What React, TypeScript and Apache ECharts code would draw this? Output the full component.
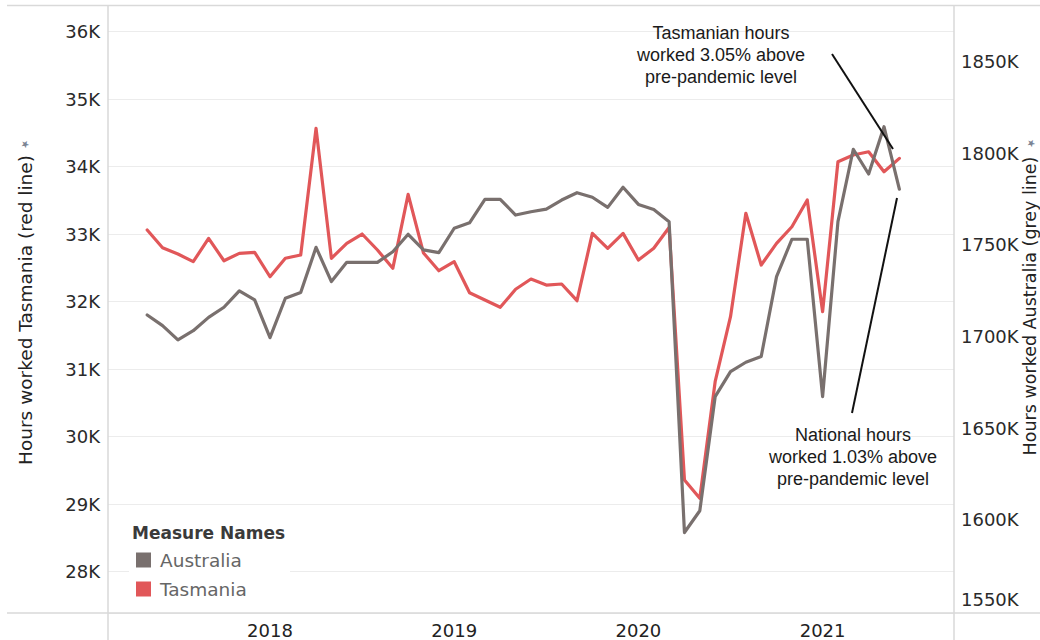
import React, { useEffect, useRef } from "react";
import * as echarts from "echarts";

// Monthly observations (x axis)
const months = [
  "2017-05", "2017-06", "2017-07", "2017-08", "2017-09", "2017-10", "2017-11", "2017-12",
  "2018-01", "2018-02", "2018-03", "2018-04", "2018-05", "2018-06", "2018-07", "2018-08", "2018-09", "2018-10", "2018-11", "2018-12",
  "2019-01", "2019-02", "2019-03", "2019-04", "2019-05", "2019-06", "2019-07", "2019-08", "2019-09", "2019-10", "2019-11", "2019-12",
  "2020-01", "2020-02", "2020-03", "2020-04", "2020-05", "2020-06", "2020-07", "2020-08", "2020-09", "2020-10", "2020-11", "2020-12",
  "2021-01", "2021-02", "2021-03", "2021-04", "2021-05", "2021-06",
];

// Hours worked, Tasmania (left axis, red line)
const tasmania = [
  33062, 32800, 32707, 32593, 32939, 32607, 32717, 32732,
  32370, 32643, 32692, 34569, 32643, 32865, 33003, 32766, 32495, 33591, 32721, 32459,
  32593, 32133, 32025, 31917, 32184, 32336, 32247, 32262, 32015, 33013, 32791, 33013,
  32618, 32791, 33099, 29359, 29087, 30815, 31778, 33310, 32544, 32865, 33111, 33507,
  31852, 34074, 34173, 34222, 33926, 34124,
];

// Hours worked, Australia (right axis, grey line)
const australia = [
  1711800, 1706000, 1698200, 1703200, 1710500, 1716000, 1724900, 1720000,
  1699400, 1720900, 1724000, 1748700, 1730000, 1740500, 1740500, 1740500, 1746300, 1755800, 1747300, 1745800,
  1759100, 1762100, 1774900, 1774900, 1766300, 1768100, 1769500, 1774500, 1778500, 1776000, 1770500, 1781500,
  1772100, 1769300, 1762700, 1593100, 1605000, 1667200, 1680900, 1686000, 1689100, 1732700, 1753100, 1753100,
  1667200, 1762700, 1802200, 1788700, 1814500, 1780400,
];

const yearLabels = ["2018", "2019", "2020", "2021"];
const seriesNames = ["Australia", "Tasmania"];
const seriesColors = { Australia: "#79706E", Tasmania: "#E15759" };

const tasAnnotation = "Tasmanian hours\nworked 3.05% above\npre-pandemic level";
const ausAnnotation = "National hours\nworked 1.03% above\npre-pandemic level";
const leftTitle = "Hours worked Tasmania (red line)";
const rightTitle = "Hours worked Australia (grey line)";
const legendTitle = "Measure Names";

const AXIS_FONT = "DejaVu Sans";
const NOTE_FONT = "Liberation Sans, Arial, sans-serif";

export default function App() {
  const ref = useRef<HTMLDivElement>(null);

  useEffect(() => {
    if (!ref.current) return;
    const chart = echarts.init(ref.current, null, { renderer: "svg" });

    const yearTicks = yearLabels.map((y) => months.indexOf(y + "-01"));
    const tasData = months.map((m, i) => [i, tasmania[i]]);
    const ausData = months.map((m, i) => [i, australia[i]]);

    const frame = "#d9d9d9";

    const option: any = {
      animation: false,
      backgroundColor: "#ffffff",
      grid: { left: 108, right: 86, top: 5, bottom: 27, containLabel: false },
      xAxis: {
        type: "value",
        min: -2.554,
        max: 52.56,
        axisLine: { show: false },
        axisTick: { show: false },
        splitLine: { show: false },
        axisLabel: {
          customValues: yearTicks,
          formatter: (v: number) => {
            const k = yearTicks.indexOf(Math.round(v));
            return k >= 0 ? yearLabels[k] : "";
          },
          fontFamily: AXIS_FONT,
          fontSize: 18,
          lineHeight: 18,
          color: "#222",
          margin: 8,
        },
      },
      yAxis: [
        {
          type: "value",
          position: "left",
          min: 27388,
          max: 36396,
          splitNumber: 9,
          axisLine: { show: false },
          axisTick: { show: false },
          splitLine: { show: true, lineStyle: { color: "#ececec", width: 1 } },
          axisLabel: {
            formatter: (v: number) => Math.round(v / 1000) + "K",
            showMinLabel: false,
            showMaxLabel: false,
            fontFamily: AXIS_FONT,
            fontSize: 18,
            color: "#2a2a2a",
            margin: 8,
          },
        },
        {
          type: "value",
          position: "right",
          min: 1549200,
          max: 1880900,
          splitNumber: 7,
          axisLine: { show: false },
          axisTick: { show: false },
          splitLine: { show: false },
          axisLabel: {
            formatter: (v: number) => {
              const s = Math.round(v / 1000) + "K";
              return Math.abs(v - 1550000) < 1 ? "{lo|" + s + "}" : s;
            },
            rich: {
              lo: {
                fontFamily: AXIS_FONT,
                fontSize: 18,
                color: "#2a2a2a",
                padding: [0, 0, 24, 0],
              },
            },
            showMinLabel: false,
            showMaxLabel: false,
            fontFamily: AXIS_FONT,
            fontSize: 18,
            color: "#2a2a2a",
            margin: 7,
          },
        },
      ],
      legend: {
        data: seriesNames,
        orient: "vertical",
        left: 136,
        top: 550.5,
        padding: 0,
        icon: "rect",
        itemWidth: 15,
        itemHeight: 15,
        itemGap: 10,
        selectedMode: false,
        textStyle: {
          fontFamily: AXIS_FONT,
          fontSize: 18.5,
          lineHeight: 18,
          color: "#666",
          padding: [0, 0, 0, 4],
        },
      },
      series: [
        {
          name: "Tasmania",
          type: "line",
          yAxisIndex: 0,
          data: tasData,
          showSymbol: false,
          symbol: "none",
          color: seriesColors.Tasmania,
          lineStyle: { width: 3.2, color: seriesColors.Tasmania, join: "round", cap: "round" },
          z: 2,
        },
        {
          name: "Australia",
          type: "line",
          yAxisIndex: 1,
          data: ausData,
          showSymbol: false,
          symbol: "none",
          color: seriesColors.Australia,
          lineStyle: { width: 3.2, color: seriesColors.Australia, join: "round", cap: "round" },
          z: 3,
        },
      ],
      graphic: [
        // frame lines
        { type: "line", z: 5, shape: { x1: 7, y1: 5.5, x2: 1040, y2: 5.5 }, style: { stroke: frame, lineWidth: 1.5 } },
        { type: "line", z: 5, shape: { x1: 7, y1: 613, x2: 1040, y2: 613 }, style: { stroke: frame, lineWidth: 1.5 } },
        { type: "line", z: 5, shape: { x1: 108, y1: 5, x2: 108, y2: 640 }, style: { stroke: frame, lineWidth: 1.5 } },
        { type: "line", z: 5, shape: { x1: 954, y1: 5, x2: 954, y2: 640 }, style: { stroke: frame, lineWidth: 1.5 } },
        // legend backdrop
        { type: "rect", z: 1, shape: { x: 129, y: 516, width: 161, height: 86 }, style: { fill: "#ffffff" } },
        {
          type: "text",
          z: 6,
          x: 132,
          y: 533,
          style: {
            text: legendTitle,
            fontFamily: AXIS_FONT,
            fontSize: 17,
            fontWeight: "bold",
            fill: "#3a3a3a",
            align: "left",
            verticalAlign: "middle",
          },
        },
        // axis titles
        {
          type: "text",
          x: 25,
          y: 310,
          rotation: Math.PI / 2,
          style: {
            text: leftTitle,
            fontFamily: AXIS_FONT,
            fontSize: 18.5,
            fill: "#222",
            align: "center",
            verticalAlign: "middle",
          },
        },
        {
          type: "text",
          x: 1030,
          y: 306,
          rotation: Math.PI / 2,
          style: {
            text: rightTitle,
            fontFamily: AXIS_FONT,
            fontSize: 17.5,
            fill: "#222",
            align: "center",
            verticalAlign: "middle",
          },
        },
        // pins
        {
          type: "text",
          x: 25,
          y: 144,
          rotation: Math.PI / 4,
          style: { text: "★", fontFamily: AXIS_FONT, fontSize: 10, fill: "#7b8494", align: "center", verticalAlign: "middle" },
        },
        {
          type: "text",
          x: 1031,
          y: 143,
          rotation: Math.PI / 4,
          style: { text: "★", fontFamily: AXIS_FONT, fontSize: 10, fill: "#7b8494", align: "center", verticalAlign: "middle" },
        },
        // annotations
        {
          type: "text",
          z: 6,
          x: 721,
          y: 55,
          style: {
            text: tasAnnotation,
            fontFamily: NOTE_FONT,
            fontSize: 18,
            lineHeight: 21.7,
            fill: "#1a1a1a",
            align: "center",
            verticalAlign: "middle",
          },
        },
        { type: "line", z: 6, shape: { x1: 832, y1: 54, x2: 893, y2: 149 }, style: { stroke: "#111", lineWidth: 2 } },
        {
          type: "text",
          z: 6,
          x: 853,
          y: 457,
          style: {
            text: ausAnnotation,
            fontFamily: NOTE_FONT,
            fontSize: 18,
            lineHeight: 21.7,
            fill: "#1a1a1a",
            align: "center",
            verticalAlign: "middle",
          },
        },
        { type: "line", z: 6, shape: { x1: 852, y1: 413, x2: 897, y2: 198 }, style: { stroke: "#111", lineWidth: 2 } },
      ],
    };

    chart.setOption(option);
    return () => chart.dispose();
  }, []);

  return (
    <div
      ref={ref}
      style={{ position: "fixed", left: 0, top: 0, width: 1040, height: 640, background: "#fff" }}
    />
  );
}
